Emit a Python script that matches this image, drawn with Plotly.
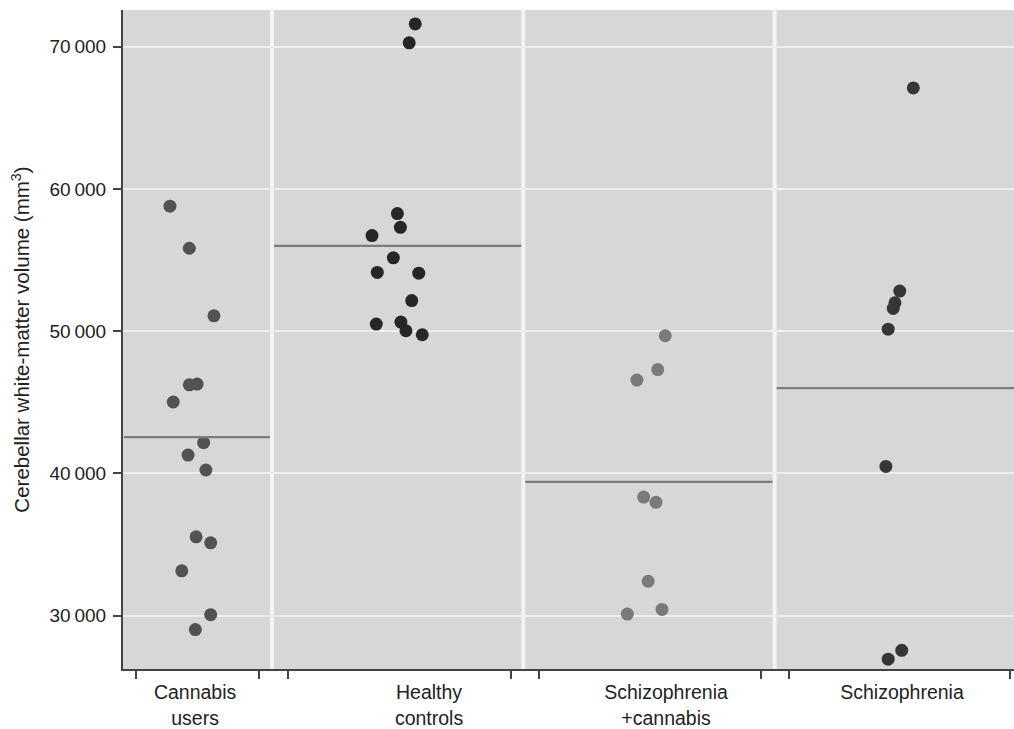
import plotly.graph_objects as go

# ---- data ----
group_labels = ["Cannabis<br>users", "Healthy<br>controls", "Schizophrenia<br>+cannabis", "Schizophrenia"]

cannabis_users_x = [0.594, 0.671, 0.769, 0.671, 0.702, 0.607, 0.728, 0.666, 0.737, 0.698, 0.756, 0.641, 0.756, 0.695]
cannabis_users_y = [58790, 55830, 51080, 46230, 46280, 45020, 42160, 41290, 40240, 35540, 35120, 33150, 30070, 29020]

healthy_controls_x = [1.570, 1.546, 1.499, 1.511, 1.398, 1.483, 1.419, 1.584, 1.556, 1.415, 1.513, 1.533, 1.598]
healthy_controls_y = [71600, 70270, 58270, 57300, 56720, 55160, 54130, 54080, 52150, 50500, 50640, 50030, 49750]

schiz_cannabis_x = [2.565, 2.535, 2.452, 2.479, 2.528, 2.497, 2.552, 2.414]
schiz_cannabis_y = [49680, 47300, 46560, 38340, 37970, 32420, 30440, 30110]

schizophrenia_x = [3.552, 3.498, 3.479, 3.472, 3.452, 3.443, 3.506, 3.452]
schizophrenia_y = [67100, 52820, 52000, 51600, 50140, 40490, 27560, 26940]

group_means = [42550, 56000, 39400, 46000]

y_tick_values = [30000, 40000, 50000, 60000, 70000]
y_tick_text = ["30\u2009000", "40\u2009000", "50\u2009000", "60\u2009000", "70\u2009000"]

# category axis layout (in category units)
x_range = [0.4071, 3.9527]
panel_separators = [1, 2, 3]
label_positions = [0.694, 1.625, 2.568, 3.507]
tick_positions = [0.459, 0.948, 1.064, 1.951, 2.062, 2.946, 3.058, 3.937]

y_range = [26250, 72580]

point_colors = ["#525252", "#262626", "#7a7a7a", "#363636"]

fig = go.Figure()

series = [
    (cannabis_users_x, cannabis_users_y),
    (healthy_controls_x, healthy_controls_y),
    (schiz_cannabis_x, schiz_cannabis_y),
    (schizophrenia_x, schizophrenia_y),
]

# mean lines spanning each panel
bounds = [x_range[0]] + panel_separators + [x_range[1]]
for i, m in enumerate(group_means):
    x0 = bounds[i] + (0.008 if i > 0 else 0.004)
    x1 = bounds[i + 1] - (0.008 if i < 3 else 0.0)
    fig.add_trace(go.Scatter(
        x=[x0, x1], y=[m, m], mode="lines",
        line=dict(color="#7d7d7d", width=2.2),
        xaxis="x2", yaxis="y", hoverinfo="skip", showlegend=False,
    ))

for (xs, ys), col, name in zip(series, point_colors, group_labels):
    fig.add_trace(go.Scatter(
        x=xs, y=ys, mode="markers", name=name.replace("<br>", " "),
        marker=dict(size=13, color=col, line=dict(width=0)),
        showlegend=False,
    ))

shapes = []
for s in panel_separators:
    shapes.append(dict(
        type="line", xref="x", yref="paper", x0=s, x1=s, y0=0, y1=1,
        line=dict(color="#f3f3f3", width=4), layer="below",
    ))

font_family = "Liberation Sans, Arial, sans-serif"

fig.update_layout(
    width=1014, height=729,
    margin=dict(l=123, r=0, t=10, b=56),
    paper_bgcolor="white",
    plot_bgcolor="#d6d7d9",
    font=dict(family=font_family, size=18, color="#222222"),
    shapes=shapes,
    xaxis=dict(
        range=x_range, tickvals=tick_positions, showticklabels=False,
        ticks="outside", ticklen=8, tickwidth=1.5, tickcolor="#444444",
        showline=True, linecolor="#444444", linewidth=2,
        showgrid=False, zeroline=False,
    ),
    xaxis2=dict(
        range=x_range, overlaying="x", side="bottom", anchor="y",
        tickvals=label_positions, ticktext=group_labels,
        ticks="outside", ticklen=6, tickcolor="rgba(0,0,0,0)",
        showline=False, showgrid=False, zeroline=False,
        tickfont=dict(family=font_family, size=19.5, color="#222222"),
    ),
    yaxis=dict(
        range=y_range, tickvals=y_tick_values, ticktext=y_tick_text,
        ticks="outside", ticklen=8, tickwidth=1.5, tickcolor="#444444",
        showline=True, linecolor="#444444", linewidth=2,
        showgrid=True, gridcolor="#eeeeee", gridwidth=2, zeroline=False,
        tickfont=dict(family=font_family, size=19, color="#222222"),
        ticklabelstandoff=3,
        title=dict(text="Cerebellar white-matter volume (mm<sup>3</sup>)",
                   font=dict(family=font_family, size=20.5, color="#222222"),
                   standoff=14),
    ),
)

fig.write_html(
    "out.html",
    config={"displayModeBar": False},
    post_script="document.body.style.margin='0px';document.documentElement.style.overflow='hidden';",
)
